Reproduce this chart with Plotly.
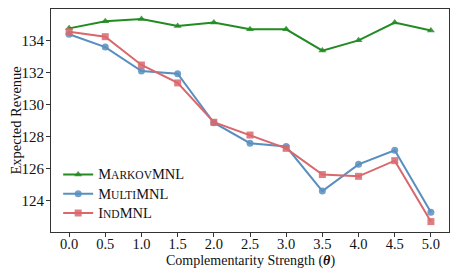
import plotly.graph_objects as go

theta = [0.0, 0.5, 1.0, 1.5, 2.0, 2.5, 3.0, 3.5, 4.0, 4.5, 5.0]
markov_mnl = [134.77, 135.21, 135.36, 134.92, 135.13, 134.71, 134.71, 133.38, 134.02, 135.13, 134.63]
multi_mnl = [134.40, 133.60, 132.10, 131.94, 128.87, 127.59, 127.38, 124.60, 126.27, 127.15, 123.27]
ind_mnl = [134.56, 134.25, 132.48, 131.36, 128.90, 128.10, 127.27, 125.63, 125.52, 126.50, 122.69]
x_ticks = [0.0, 0.5, 1.0, 1.5, 2.0, 2.5, 3.0, 3.5, 4.0, 4.5, 5.0]
y_ticks = [124, 126, 128, 130, 132, 134]


def small_caps(big1, small, big2):
    return (f"<span style='font-size:14.5px'>{big1}</span>"
            f"<span style='font-size:11.5px'>{small}</span>"
            f"<span style='font-size:14.5px'>{big2}</span>")


names = [small_caps("M", "ARKOV", "MNL"), small_caps("M", "ULTI", "MNL"), small_caps("I", "ND", "MNL")]
colors = ["rgb(34,139,34)", "rgb(88,143,192)", "rgb(217,103,108)"]
symbols = ["triangle-up", "circle", "square"]
series = [markov_mnl, multi_mnl, ind_mnl]

fig = go.Figure()
for name, ys, c, s in zip(names, series, colors, symbols):
    fig.add_trace(go.Scatter(
        x=theta, y=ys, mode="lines+markers", name=name,
        line=dict(color=c, width=2),
        marker=dict(symbol=s, size=7, color=c, opacity=0.85),
    ))

font = "Liberation Serif, DejaVu Serif, serif"
fig.update_layout(
    width=459, height=275,
    margin=dict(l=51, r=10, t=9, b=43),
    paper_bgcolor="white", plot_bgcolor="white",
    font=dict(family=font, size=15, color="#111"),
    showlegend=True,
    legend=dict(x=0.018, y=0.018, xanchor="left", yanchor="bottom",
                bgcolor="rgba(255,255,255,0)", font=dict(size=12.5),
                tracegroupgap=0, itemwidth=30),
    annotations=[
        dict(text="Complementarity Strength (<b><i>θ</i></b>)", xref="paper", yref="paper",
             x=0.5, y=-(261 - 232) / 223, xanchor="center", yanchor="middle",
             showarrow=False, font=dict(size=14)),
        dict(text="Expected Revenue", xref="paper", yref="paper",
             x=-(51 - 15) / 398, y=0.5, xanchor="center", yanchor="middle",
             textangle=-90, showarrow=False, font=dict(size=14.5)),
    ],
)
fig.update_xaxes(
    range=[-0.25, 5.25], tickvals=x_ticks,
    ticktext=[f"{v:.1f}" for v in x_ticks],
    showgrid=False, zeroline=False, showline=True, mirror=True,
    linecolor="#333", linewidth=1, ticks="outside", ticklen=4, tickcolor="#333",
    tickfont=dict(size=14.5), automargin=False, ticklabelstandoff=-5,
)
fig.update_yaxes(
    range=[122.04, 135.98], tickvals=y_ticks,
    showgrid=False, zeroline=False, showline=True, mirror=True,
    linecolor="#333", linewidth=1, ticks="outside", ticklen=4, tickcolor="#333",
    tickfont=dict(size=15), automargin=False, ticklabelstandoff=-1,
)
fig.write_html("out.html", config={"displayModeBar": False},
               post_script="document.body.style.margin='0';")
